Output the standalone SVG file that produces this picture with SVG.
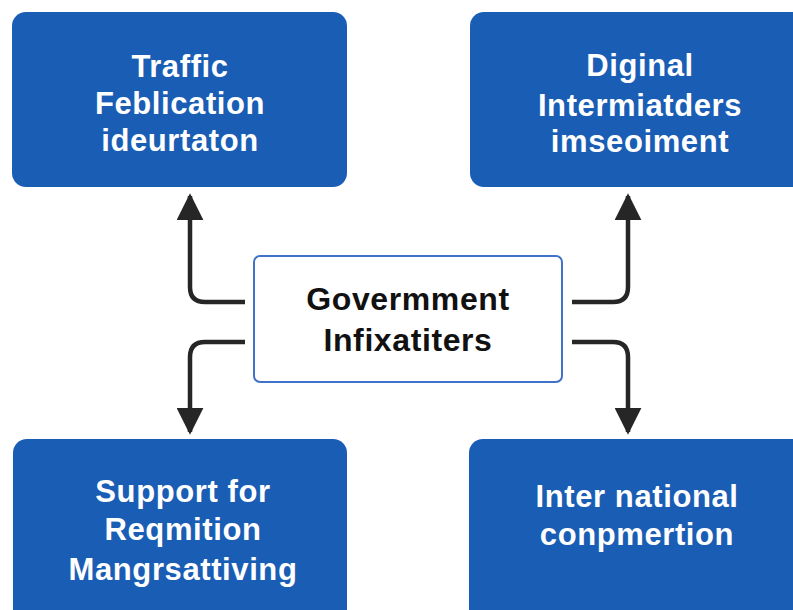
<svg xmlns="http://www.w3.org/2000/svg" width="793" height="610" viewBox="0 0 793 610">
<defs>
<style>
.box{fill:#1a5db4;}
.wt{fill:#ffffff;font-family:"Liberation Sans",Arial,sans-serif;font-weight:bold;font-size:31px;letter-spacing:0.6px;text-anchor:middle;}
.bt{fill:#111111;font-family:"Liberation Sans",Arial,sans-serif;font-weight:bold;font-size:32px;letter-spacing:0.6px;text-anchor:middle;}
.con{fill:none;stroke:#262626;stroke-width:4.5;}
</style>
<marker id="ah" viewBox="0 0 10 10" refX="9" refY="5" markerWidth="6" markerHeight="6" orient="auto" markerUnits="strokeWidth">
<path d="M0,0 L10,5 L0,10 z" fill="#262626"/>
</marker>
</defs>
<rect width="793" height="610" fill="#ffffff"/>
<g id="connectors">
<path class="con" d="M245,302 H205 Q190,302 190,287 V196" marker-end="url(#ah)"/>
<path class="con" d="M245,342 H205 Q190,342 190,357 V432" marker-end="url(#ah)"/>
<path class="con" d="M572,302 H613 Q628,302 628,287 V196" marker-end="url(#ah)"/>
<path class="con" d="M572,342 H613 Q628,342 628,357 V432" marker-end="url(#ah)"/>
</g>
<g id="node-traffic">
<rect class="box" x="12" y="12" width="335" height="175" rx="14"/>
<text class="wt" x="180" y="77">Traffic</text>
<text class="wt" x="180" y="114">Feblication</text>
<text class="wt" x="180" y="151">ideurtaton</text>
</g>
<g id="node-digital">
<rect class="box" x="470" y="12" width="340" height="175" rx="14"/>
<text class="wt" x="640" y="76">Diginal</text>
<text class="wt" x="640" y="116">Intermiatders</text>
<text class="wt" x="640" y="152">imseoiment</text>
</g>
<g id="node-government">
<rect x="254" y="256" width="308" height="126" rx="6" fill="#ffffff" stroke="#3f72c8" stroke-width="2"/>
<text class="bt" x="408" y="310">Govermment</text>
<text class="bt" x="408" y="351">Infixatiters</text>
</g>
<g id="node-support">
<rect class="box" x="13" y="439" width="334" height="190" rx="14"/>
<text class="wt" x="183" y="502">Support for</text>
<text class="wt" x="183" y="540">Reqmition</text>
<text class="wt" x="183" y="580">Mangrsattiving</text>
</g>
<g id="node-international">
<rect class="box" x="469" y="439" width="340" height="190" rx="14"/>
<text class="wt" x="637" y="507">Inter national</text>
<text class="wt" x="637" y="545">conpmertion</text>
</g>
</svg>
